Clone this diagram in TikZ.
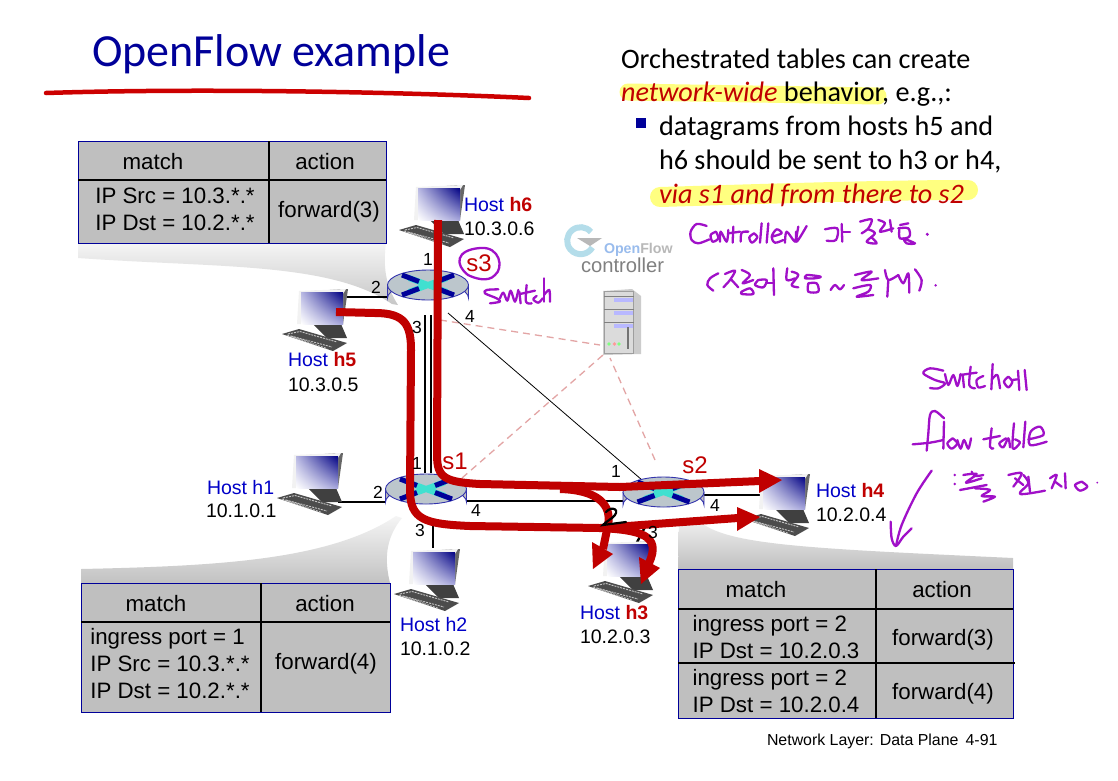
\documentclass[tikz,border=0pt]{standalone}
\usepackage{fontspec}
\setmainfont{Liberation Sans}
\newfontfamily\calfont{Carlito}
\usetikzlibrary{calc,arrows.meta,shadings}
\definecolor{navyb}{HTML}{000099}
\definecolor{hostblue}{HTML}{0000C8}
\definecolor{flowred}{HTML}{C00000}
\definecolor{tablegray}{HTML}{BFBFBF}
\definecolor{penpurple}{HTML}{A010C8}
\definecolor{marker}{HTML}{FFFF80}
\definecolor{routertop}{HTML}{BCC6CC}
\definecolor{routerx}{HTML}{40E0D0}
\definecolor{dashpink}{HTML}{E3A5A5}
\definecolor{logoblue}{HTML}{B4DDEA}
\tikzset{
  every node/.style={inner sep=0pt,outer sep=0pt},
  lbl/.style={anchor=base west,font=\fontsize{19.5}{24}\selectfont},
  port/.style={anchor=center,font=\fontsize{17.5}{20}\selectfont},
  swname/.style={anchor=center,text=flowred,font=\fontsize{24}{30}\selectfont},
  cell/.style={anchor=center,align=left,font=\fontsize{22.3}{27}\selectfont},
  hdr/.style={anchor=center,font=\fontsize{22.3}{27}\selectfont},
  body/.style={anchor=base west,font=\calfont\fontsize{28.2}{33}\selectfont},
  tablebox/.style={anchor=north west,draw=blue!60!black,fill=tablegray,line width=1pt},
  tline/.style={black,line width=1.6pt},
  link/.style={black,line width=2.4pt},
  thinlink/.style={black,line width=.8pt},
  ctrl/.style={draw=dashpink,line width=1.3pt,dash pattern=on 7pt off 5pt},
  flow/.style={flowred,line width=8pt,line join=round},
  head/.style={fill=flowred,draw=none},
  hand/.style={penpurple,line width=2.3pt,line cap=round,line join=round},
  hostbox/.style={minimum width=70pt,minimum height=60pt},
  routerbox/.style={minimum width=81pt,minimum height=44pt}
}
\newcommand{\hostat}[3]{%
\begin{scope}[shift={(#2,#3)}]
 \fill[black!60] (-2,0)--(44,-3)--(47,-3)--(42,32)--(40,32)--cycle;
 \fill[black!5] (-2,-1)--(45,-3)--(42,2)--(42,32)--(-4,32)--cycle;
 \fill[black!75] (12,32)--(40,32)--(46,46)--(26,46)--cycle;
 \fill[black!70] (-19,42)--(-2,37)--(46,51)--(32,59)--cycle;
 \draw[black!22,line width=.9pt,dash pattern=on 2pt off 1pt] (-13,42)--(-1,39.5)--(36,50) (-10,44)--(31,55) (-14,43)--(26,56.5);
 \shade[lower left=white,upper right=navyb!85!black,upper left=navyb!28!white,lower right=navyb!35!white] (0,0) rectangle (42,32);
 \node[hostbox] (#1) at (14,24) {};
\end{scope}}
\newcommand{\routerat}[3]{%
\begin{scope}[shift={(#2,#3)}]
 \shade[left color=black!28,middle color=white,right color=black!25,shading angle=90] (-40.5,0) -- (-40.5,13) arc[start angle=180,end angle=360,x radius=40.5,y radius=15] -- (40.5,0) -- cycle;
 \draw[navyb!80,line width=.9pt] (-40.5,0) -- (-40.5,13) arc[start angle=180,end angle=360,x radius=40.5,y radius=15] -- (40.5,0);
 \fill[routertop] (0,0) ellipse[x radius=40.5,y radius=15];
 \draw[navyb!80,line width=.9pt] (0,0) ellipse[x radius=40.5,y radius=15];
 \draw[routerx,line width=6pt] (-19,-7)--(19,7) (-19,7)--(19,-7);
 \draw[navyb,line width=5pt] (-26,-10)--(-9,-3.5) (26,-10)--(9,-3.5) (-26,10)--(-9,3.5) (26,10)--(9,3.5);
 \node[routerbox] (#1) at (0,7) {};
\end{scope}}
\newcommand{\scrib}[1]{\draw[hand] plot[smooth,tension=.55] coordinates {#1};}
\begin{document}
\begin{tikzpicture}[x=1pt,y=-1pt]
\useasboundingbox (0,0) rectangle (1118,780);
\fill[white] (0,0) rectangle (1118,780);
% callouts
\shade[top color=black!4,bottom color=black!22] (78,243) -- (78,258) .. controls (220,268) and (330,262) .. (392,304) -- (398,305) .. controls (385,285) and (383,265) .. (386,243) -- cycle;
\shade[top color=black!4,bottom color=black!24] (81,583) -- (81,569) .. controls (220,566) and (330,560) .. (396,516) -- (402,518) .. controls (388,535) and (383,555) .. (390,583) -- cycle;
\shade[bottom color=black!25,top color=black!5] (678,569) -- (679,518) -- (696,518) .. controls (720,545) and (800,548) .. (1013,558) -- (1013,569) -- cycle;
% title
\node[anchor=base west,text=navyb,font=\calfont\fontsize{46}{52}\selectfont] (title) at (92,66) {OpenFlow example};
\draw[red!80!black,line width=4.5pt,line cap=round] (46,93) .. controls (200,88) and (400,92) .. (529,98);
% marker
\draw[marker,line width=17pt,line cap=round] (628,92) -- (878,96);
\draw[marker,line width=20pt,line cap=round] (660,197) .. controls (760,194) and (880,190) .. (968,190);
% body text
\node[body] (t1) at (621,68) {Orchestrated tables can create};
\node[body] (t2) at (621,101) {\textcolor{flowred}{\itshape network-wide} behavior, e.g.,:};
\fill[navyb] (636,118) rectangle (646,128);
\node[body] (t3) at (659,135) {datagrams from hosts h5 and};
\node[body] (t4) at (659,169) {h6 should be sent to h3 or h4,};
\node[body,text=flowred,font=\calfont\itshape\fontsize{28.2}{33}\selectfont] (t5) at (659,203) {via s1 and from there to s2};
% tables
\node[tablebox,minimum width=308pt,minimum height=102pt] (tabA) at (78,141) {};
\draw[tline] (78,180) -- (386,180);
\draw[tline,line width=1.2pt] (269,141) -- (269,243);
\node[hdr] (tAm) at (153,162) {match};
\node[hdr] (tAa) at (325,162) {action};
\node[cell] (tAc) at (175,209) {IP Src = 10.3.*.*\\IP Dst = 10.2.*.*};
\node[hdr] (tAf) at (329,212) {forward(3)};
\node[tablebox,minimum width=309pt,minimum height=129pt] (tabB) at (81,583) {};
\draw[tline] (81,622) -- (390,622);
\draw[tline,line width=1.2pt] (261,583) -- (261,712);
\node[hdr] (tBm) at (156,604) {match};
\node[hdr] (tBa) at (325,604) {action};
\node[cell] (tBc) at (170,664) {ingress port = 1\\IP Src = 10.3.*.*\\IP Dst = 10.2.*.*};
\node[hdr] (tBf) at (326,664) {forward(4)};
\node[tablebox,minimum width=335pt,minimum height=149pt] (tabC) at (678,569) {};
\draw[tline] (678,609) -- (1013,609);
\draw[tline] (678,663) -- (1015,663);
\draw[tline,line width=1.2pt] (876,569) -- (876,718);
\node[hdr] (tCm) at (756,590) {match};
\node[hdr] (tCa) at (942,590) {action};
\node[cell] (tCc) at (776,637) {ingress port = 2\\IP Dst = 10.2.0.3};
\node[cell] (tCd) at (776,691) {ingress port = 2\\IP Dst = 10.2.0.4};
\node[hdr] (tCf) at (943,640) {forward(3)};
\node[hdr] (tCg) at (943,694) {forward(4)};
% server and logo
\draw[line width=6pt,logoblue] (591,232) arc[start angle=-40,end angle=-330,radius=13.5];
\fill[black!28] (577,238)--(602,238)--(590,246)--cycle;
\node[anchor=base west,text=logoblue!85!blue,font=\bfseries\fontsize{14.2}{16}\selectfont] (ofl) at (604,253) {Open\textcolor{black!28}{Flow}};
\node[anchor=base west,text=black!50,font=\fontsize{20.2}{22}\selectfont] (ofc) at (581,272) {controller};
\fill[black!20] (603,291) -- (632,289) -- (641,296) -- (641,354) -- (603,355) -- cycle;
\fill[black!38] (604,291) rectangle (634,354);
\fill[black!14] (605,292) rectangle (633,353);
\foreach \yy in {298,311,324}{\fill[black!50] (604,\yy-2) rectangle (634,\yy-1); \fill[blue!28] (614,\yy) rectangle (633,\yy+4);}
\fill[black!55] (627,327) rectangle (629,349);
\fill[green!50!white] (609,344) circle (1.8);
\fill[red!40!white] (614.5,344) circle (1.8);
\fill[green!50!white] (619,344) circle (1.8);
\node[minimum width=38pt,minimum height=66pt] (srv) at (622,322) {};
% named port coordinates
\coordinate (s3w) at (387,297); \coordinate (h5e) at (344,297);
\coordinate (s3sa) at (425,315); \coordinate (s3sb) at (431,315);
\coordinate (s1na) at (425,473); \coordinate (s1nb) at (431,473);
\coordinate (h1e) at (338,502); \coordinate (s1w) at (385,502);
\coordinate (s1e) at (467,501); \coordinate (s2w) at (623,501);
\coordinate (s1s) at (433,518); \coordinate (h2n) at (433,548);
\coordinate (s2e) at (704,495); \coordinate (h4w) at (764,495);
\coordinate (s2s) at (645,527); \coordinate (h3n) at (634,548);
\coordinate (s3se) at (448,313); \coordinate (s2nw) at (642,480);
\coordinate (s3c) at (440,320); \coordinate (s1c) at (462,478); \coordinate (s2c) at (655,460);
\coordinate (srvA) at (600,345); \coordinate (srvB) at (603,355); \coordinate (srvC) at (610,358);
% links
\draw[ctrl] (s3c) -- (srvA);
\draw[ctrl] (s1c) -- (srvB);
\draw[ctrl] (s2c) -- (srvC);
\draw[thinlink] (s3se) -- (s2nw);
\draw[link] (h5e) -- (s3w);
\draw[link] (s3sa) -- (s1na);
\draw[link] (s3sb) -- (s1nb);
\draw[link] (h1e) -- (s1w);
\draw[link] (s1e) -- (s2w);
\draw[link] (s1s) -- (h2n);
\draw[link] (s2e) -- (h4w);
\draw[link] (s2s) -- (h3n);
% switches
\routerat{s3}{428}{285}
\routerat{s1}{426}{489}
\routerat{s2}{663.5}{492}
% hosts
\hostat{h6}{418}{188}
\hostat{h5}{301}{292}
\hostat{h1}{296}{456}
\hostat{h2}{413}{552}
\hostat{h3}{607}{544}
\hostat{h4}{763}{477}
% host labels
\node[lbl] (lh6) at (464,211) {\textcolor{hostblue}{Host} \textcolor{flowred}{\bfseries h6}};
\node[lbl] (ih6) at (464,235) {10.3.0.6};
\node[lbl] (lh5) at (288,366) {\textcolor{hostblue}{Host} \textcolor{flowred}{\bfseries h5}};
\node[lbl] (ih5) at (288,391) {10.3.0.5};
\node[lbl] (lh1) at (207,494) {\textcolor{hostblue}{Host h1}};
\node[lbl] (ih1) at (206,517) {10.1.0.1};
\node[lbl] (lh2) at (400,631) {\textcolor{hostblue}{Host h2}};
\node[lbl] (ih2) at (400,655) {10.1.0.2};
\node[lbl] (lh3) at (580,619) {\textcolor{hostblue}{Host} \textcolor{flowred}{\bfseries h3}};
\node[lbl] (ih3) at (580,643) {10.2.0.3};
\node[lbl] (lh4) at (816,497) {\textcolor{hostblue}{Host} \textcolor{flowred}{\bfseries h4}};
\node[lbl] (ih4) at (816,521) {10.2.0.4};
% flows
\coordinate (h6f) at (438,220); \coordinate (h5f) at (336,312);
\coordinate (h4a) at (760,481); \coordinate (h4b) at (738,518);
\coordinate (h3a) at (603,549); \coordinate (h3b) at (649,563);
\draw[flow] (h6f) -- (437,455) .. controls (437,478) and (445,482) .. (480,484) -- (620,487) -- (h4a);
\draw[flow] (h5f) -- (375,313) .. controls (405,313) and (411,325) .. (411,350) -- (410,490) .. controls (410,520) and (425,524) .. (470,526) -- (600,528) -- (h4b);
\draw[flow] (560,489) .. controls (598,490) and (612,505) .. (608,525) -- (h3a);
\draw[flow] (600,528) .. controls (640,530) and (662,535) .. (h3b);
\fill[head] (759,469) -- (782,480) -- (759,493) -- cycle;
\fill[head] (737,507) -- (760,517) -- (737,531) -- cycle;
\fill[head] (592,542) -- (613,554) -- (593,569) -- cycle;
\fill[head] (639,557) -- (660,568) -- (641,584) -- cycle;
\draw[black,line width=2.2pt,line cap=round] (606,512) .. controls (612,505) and (622,510) .. (612,518) .. controls (606,522) and (604,524) .. (603,525) -- (626,522);
% ports
\node[port] (p1a) at (428,259) {1};
\node[port] (p2a) at (376,287) {2};
\node[port] (p3a) at (417,327) {3};
\node[port] (p4a) at (470,316) {4};
\node[port] (p1b) at (417,463) {1};
\node[port] (p2b) at (378,492) {2};
\node[port] (p3b) at (420,530) {3};
\node[port] (p4b) at (476,510) {4};
\node[port] (p1c) at (616,471) {1};
\node[port] (p4c) at (715,505) {4};
\node[port] (p3c) at (653,532) {3};
\node[swname] (ns3) at (479,263) {s3};
\node[swname] (ns1) at (455,461) {s1};
\node[swname] (ns2) at (695,465) {s2};
\node[anchor=base west,font=\fontsize{15.9}{20}\selectfont] (foot) at (767,745) {Network Layer: Data Plane\hspace{.45em}4-91};
% handwriting: circle and "switch" near s3
\draw[hand] (480,248) .. controls (500,246) and (504,268) .. (495,275) .. controls (488,283) and (474,278) .. (468,275) .. controls (455,265) and (455,250) .. (480,248) -- cycle;
\begin{scope}[shift={(270,170)},x=.3333pt,y=-.3333pt,hand]
\scrib{(685,358)(650,360)(645,370)(680,385)(690,395)(660,400)}
\scrib{(690,385)(700,368)(712,392)(722,362)(735,395)(745,360)}
\scrib{(748,365)(752,400)}
\scrib{(770,345)(768,395)(785,400)}
\scrib{(750,372)(795,362)}
\scrib{(800,378)(790,388)(805,398)(818,385)}
\scrib{(822,325)(822,395)}
\scrib{(822,375)(838,360)(840,395)}
\end{scope}
% handwriting: controller note
\begin{scope}[shift={(550,200)},x=.3333pt,y=-.3333pt,hand]
\scrib{(470,78)(440,72)(422,95)(425,120)(445,130)(478,118)}
\scrib{(498,95)(482,105)(488,125)(505,115)(498,95)}
\scrib{(510,125)(512,95)(530,125)(535,90)}
\scrib{(550,80)(548,128)}
\scrib{(535,100)(570,95)}
\scrib{(572,125)(575,98)(595,95)}
\scrib{(612,100)(598,112)(606,128)(622,112)(612,100)}
\scrib{(635,70)(630,128)}
\scrib{(655,70)(650,128)}
\scrib{(665,110)(695,100)(680,88)(665,110)(675,128)(700,120)}
\scrib{(705,128)(710,95)(735,125)(738,95)}
\scrib{(745,80)(740,125)(770,78)}
\scrib{(825,88)(862,85)(858,120)(830,122)}
\scrib{(875,72)(877,125)}
\scrib{(877,95)(900,95)}
\scrib{(930,65)(965,58)(955,85)(935,100)}
\scrib{(955,88)(975,100)(950,125)(980,130)(965,112)}
\scrib{(985,60)(1005,70)(990,95)(1030,85)}
\scrib{(1020,60)(1025,95)}
\scrib{(1045,85)(1075,85)(1078,110)(1050,115)(1048,90)}
\scrib{(1050,75)(1075,70)}
\scrib{(1060,115)(1095,130)(1070,130)(1060,115)}
\fill[penpurple] (1132,103) circle (5);
\scrib{(505,220)(480,235)(472,255)(490,272)}
\scrib{(525,222)(555,212)(540,240)(520,262)}
\scrib{(545,240)(565,262)}
\scrib{(575,210)(600,225)(578,250)(610,240)}
\scrib{(575,275)(600,265)(610,282)(575,282)(575,275)}
\scrib{(625,240)(615,255)(640,262)(650,240)(625,240)}
\scrib{(670,205)(672,285)}
\scrib{(650,250)(672,250)}
\scrib{(712,205)(710,240)(735,235)}
\scrib{(725,215)(745,225)(725,255)(745,262)}
\scrib{(765,235)(795,235)(812,230)(770,225)(765,235)}
\scrib{(775,250)(800,250)(805,275)(775,275)(775,250)}
\scrib{(842,270)(855,255)(870,268)(882,255)}
\scrib{(915,225)(965,215)(935,240)(985,235)}
\scrib{(910,265)(960,255)(955,275)(920,290)(970,285)}
\scrib{(1005,210)(1015,240)(1045,225)}
\scrib{(1015,240)(1012,290)}
\scrib{(1045,225)(1060,250)(1075,220)(1078,278)}
\scrib{(1095,208)(1115,240)(1108,272)}
\fill[penpurple] (1157,256) circle (4);
\end{scope}
% handwriting: switch flow table note
\begin{scope}[shift={(880,350)},x=.3333pt,y=-.3333pt,hand]
\scrib{(190,62)(150,55)(130,70)(165,90)(195,100)(175,115)(150,114)}
\scrib{(195,72)(205,105)(220,75)(232,108)(242,72)}
\scrib{(248,75)(252,112)}
\scrib{(272,50)(268,105)(285,115)}
\scrib{(240,75)(290,68)}
\scrib{(310,78)(290,90)(295,112)(315,108)}
\scrib{(338,42)(334,118)}
\scrib{(336,88)(352,75)(360,115)}
\scrib{(385,80)(372,95)(385,112)(397,95)(385,80)}
\scrib{(397,90)(412,88)}
\scrib{(414,62)(418,120)}
\scrib{(434,60)(440,120)}
\scrib{(192,205)(165,183)(150,195)(145,250)(140,302)}
\scrib{(98,283)(150,278)(190,270)}
\scrib{(192,215)(190,296)}
\scrib{(218,265)(202,280)(215,296)(232,280)(218,265)}
\scrib{(232,270)(242,296)(252,270)(265,296)(273,265)}
\scrib{(335,235)(330,290)(340,295)}
\scrib{(310,268)(360,258)}
\scrib{(378,265)(358,280)(370,292)(385,265)(390,292)}
\scrib{(402,220)(398,295)(420,278)(405,268)}
\scrib{(436,215)(430,292)}
\scrib{(445,268)(490,255)(480,230)(452,245)(450,285)(500,275)}
\scrib{(155,362)(110,430)(65,525)(48,588)}
\scrib{(32,515)(35,565)(48,588)(70,560)(95,535)}
\fill[penpurple] (224,375) circle (4); \fill[penpurple] (224,402) circle (4);
\scrib{(250,375)(290,372)(258,398)(305,385)}
\scrib{(275,365)(285,378)(310,375)}
\scrib{(240,420)(320,405)}
\scrib{(285,415)(330,420)(305,438)(345,440)(310,455)}
\scrib{(385,375)(425,370)(400,410)}
\scrib{(405,385)(430,405)}
\scrib{(430,375)(445,400)(420,432)(495,422)}
\scrib{(445,380)(450,425)}
\scrib{(510,385)(530,375)(515,415)}
\scrib{(525,395)(545,410)}
\scrib{(555,370)(557,415)}
\scrib{(605,395)(585,405)(600,422)(622,410)(605,395)}
\fill[penpurple] (652,398) circle (3);
\end{scope}
\end{tikzpicture}
\end{document}
